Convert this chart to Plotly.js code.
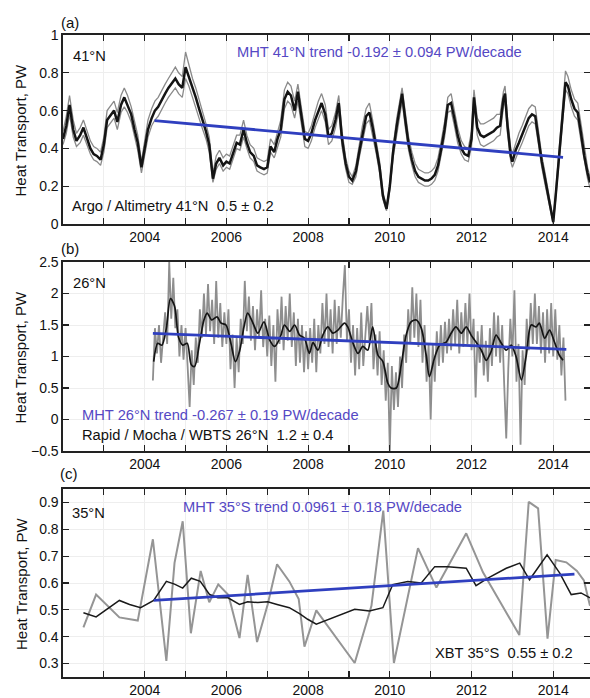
<!DOCTYPE html>
<html><head><meta charset="utf-8">
<script src="https://cdn.plot.ly/plotly-3.0.1.min.js"></script>
<style>html,body{margin:0;padding:0;overflow:hidden;background:#fff}#chart{width:600px;height:698px}</style>
</head><body><div id="chart"></div>
<script>
// ---------- tick labels ----------
const xTickVals = [2003,2004,2005,2006,2007,2008,2009,2010,2011,2012,2013,2014];
const xTickText = ['','2004','','2006','','2008','','2010','','2012','','2014'];
const yTicksA = [0,0.2,0.4,0.6,0.8,1];
const yTicksB = [-0.5,0,0.5,1,1.5,2,2.5];
const yTicksC = [0.3,0.4,0.5,0.6,0.7,0.8,0.9];

// ---------- panel (a): Argo / Altimetry 41N ----------
const yrA = [2002.00,2002.08,2002.16,2002.25,2002.33,2002.42,2002.50,2002.58,2002.67,2002.75,2002.83,2002.92,
2003.00,2003.08,2003.17,2003.25,2003.33,2003.42,2003.50,2003.58,2003.67,2003.75,2003.83,2003.92,
2004.00,2004.08,2004.17,2004.25,2004.33,2004.42,2004.50,2004.58,2004.67,2004.75,2004.83,2004.92,
2005.00,2005.08,2005.17,2005.25,2005.33,2005.42,2005.50,2005.58,2005.67,2005.75,2005.83,2005.92,
2006.00,2006.08,2006.17,2006.25,2006.33,2006.42,2006.50,2006.58,2006.67,2006.75,2006.83,2006.92,
2007.00,2007.08,2007.17,2007.25,2007.33,2007.42,2007.50,2007.58,2007.67,2007.75,2007.83,2007.92,
2008.00,2008.08,2008.17,2008.25,2008.33,2008.42,2008.50,2008.58,2008.67,2008.75,2008.83,2008.92,
2009.00,2009.08,2009.17,2009.25,2009.33,2009.42,2009.50,2009.58,2009.67,2009.75,2009.83,2009.92,
2010.00,2010.08,2010.17,2010.25,2010.30,2010.38,2010.46,2010.54,2010.62,2010.70,2010.78,2010.86,
2010.94,2011.02,2011.10,2011.18,2011.26,2011.34,2011.42,2011.50,2011.58,2011.66,2011.75,2011.83,
2011.92,2012.00,2012.06,2012.14,2012.22,2012.30,2012.38,2012.46,2012.54,2012.62,2012.70,2012.78,
2012.82,2012.88,2012.96,2013.00,2013.08,2013.16,2013.24,2013.32,2013.40,2013.48,2013.56,2013.64,
2013.72,2013.80,2013.88,2013.94,2014.00,2014.06,2014.14,2014.22,2014.30,2014.36,2014.44,2014.52,
2014.60,2014.68,2014.76,2014.84,2014.90];
const ctrA = [0.45,0.52,0.63,0.50,0.44,0.47,0.51,0.46,0.40,0.37,0.36,0.34,
0.42,0.55,0.58,0.60,0.54,0.63,0.67,0.63,0.58,0.50,0.43,0.30,
0.40,0.50,0.56,0.60,0.62,0.66,0.69,0.72,0.75,0.77,0.74,0.72,
0.83,0.78,0.72,0.67,0.61,0.55,0.49,0.42,0.24,0.32,0.35,0.31,
0.33,0.32,0.38,0.43,0.42,0.50,0.43,0.38,0.36,0.31,0.30,0.29,
0.30,0.41,0.38,0.45,0.50,0.66,0.70,0.68,0.60,0.70,0.58,0.45,
0.44,0.48,0.55,0.60,0.64,0.58,0.46,0.48,0.55,0.64,0.45,0.32,
0.25,0.23,0.28,0.38,0.48,0.57,0.59,0.51,0.40,0.30,0.15,0.08,
0.20,0.38,0.52,0.62,0.69,0.55,0.42,0.34,0.28,0.25,0.24,0.23,
0.23,0.24,0.26,0.31,0.40,0.50,0.63,0.64,0.56,0.47,0.40,0.37,
0.36,0.45,0.67,0.51,0.47,0.46,0.47,0.48,0.49,0.51,0.52,0.66,
0.69,0.52,0.36,0.33,0.39,0.43,0.47,0.52,0.56,0.58,0.57,0.45,
0.33,0.24,0.15,0.08,0.01,0.15,0.36,0.58,0.75,0.73,0.66,0.61,
0.59,0.48,0.36,0.27,0.22];
const hiA = [0.49,0.57,0.68,0.55,0.48,0.51,0.55,0.50,0.44,0.41,0.40,0.38,
0.46,0.60,0.63,0.65,0.59,0.68,0.72,0.68,0.62,0.54,0.47,0.33,
0.44,0.55,0.61,0.65,0.67,0.71,0.74,0.77,0.80,0.83,0.80,0.78,
0.91,0.84,0.77,0.72,0.66,0.60,0.53,0.46,0.27,0.36,0.39,0.35,
0.37,0.36,0.42,0.47,0.47,0.55,0.47,0.42,0.40,0.35,0.34,0.33,
0.34,0.45,0.42,0.49,0.55,0.71,0.75,0.73,0.65,0.74,0.62,0.49,
0.48,0.52,0.59,0.65,0.69,0.63,0.50,0.52,0.59,0.68,0.49,0.35,
0.28,0.25,0.31,0.42,0.52,0.61,0.64,0.55,0.44,0.33,0.17,0.09,
0.22,0.41,0.56,0.66,0.72,0.59,0.46,0.38,0.32,0.29,0.28,0.27,
0.27,0.28,0.30,0.35,0.44,0.54,0.67,0.69,0.60,0.51,0.44,0.41,
0.40,0.49,0.71,0.56,0.53,0.53,0.54,0.55,0.56,0.58,0.58,0.70,
0.73,0.56,0.40,0.37,0.43,0.48,0.52,0.57,0.61,0.63,0.62,0.49,
0.36,0.27,0.17,0.09,0.02,0.17,0.39,0.62,0.81,0.78,0.71,0.66,
0.64,0.53,0.40,0.30,0.25];
const loA = [0.42,0.48,0.58,0.46,0.41,0.43,0.47,0.42,0.37,0.34,0.33,0.31,
0.38,0.51,0.54,0.56,0.50,0.59,0.62,0.59,0.54,0.46,0.39,0.27,
0.36,0.46,0.52,0.55,0.57,0.61,0.64,0.67,0.70,0.72,0.69,0.67,
0.77,0.73,0.67,0.62,0.56,0.50,0.45,0.38,0.22,0.29,0.32,0.28,
0.30,0.29,0.35,0.40,0.39,0.46,0.40,0.35,0.33,0.28,0.27,0.26,
0.27,0.38,0.35,0.41,0.46,0.61,0.65,0.63,0.56,0.65,0.54,0.41,
0.40,0.44,0.51,0.56,0.60,0.54,0.42,0.44,0.51,0.60,0.41,0.29,
0.22,0.21,0.25,0.35,0.44,0.53,0.55,0.47,0.37,0.27,0.13,0.07,
0.18,0.35,0.48,0.58,0.65,0.51,0.39,0.31,0.25,0.22,0.21,0.20,
0.20,0.21,0.23,0.28,0.37,0.46,0.59,0.60,0.52,0.43,0.37,0.34,
0.33,0.41,0.63,0.47,0.42,0.41,0.42,0.43,0.44,0.46,0.47,0.62,
0.65,0.48,0.33,0.30,0.35,0.39,0.43,0.48,0.52,0.54,0.53,0.42,
0.30,0.21,0.13,0.06,0.00,0.13,0.33,0.54,0.71,0.69,0.62,0.57,
0.55,0.44,0.33,0.24,0.19];
const trendAx = [2004.24, 2014.24];
const trendAy = [0.547, 0.353];

// ---------- panel (b): Rapid / Mocha / WBTS 26N ----------
const rawBStart = 2004.20, rawBStep = 0.05;
const rawB = [
0.62,1.45,1.05,1.50,0.90,1.35,1.70,1.20,2.50,1.60,2.25,1.45,1.75,1.00,1.50,0.95,
1.45,0.85,0.20,1.10,0.55,1.30,0.90,1.75,1.30,2.00,1.35,2.15,1.40,1.90,1.20,2.20,1.30,1.85,1.15,1.70,
1.20,1.75,0.80,1.35,0.50,1.30,0.75,1.60,1.20,2.20,1.40,1.95,1.25,1.80,1.10,1.75,1.30,2.05,1.15,1.60,
1.00,1.65,0.85,1.50,0.60,1.75,1.20,1.95,1.10,1.80,1.25,2.00,1.15,1.70,0.85,1.60,0.90,1.50,0.75,1.40,
0.80,1.45,0.90,1.60,0.75,1.50,1.05,1.85,1.20,2.00,1.15,1.75,1.05,1.90,1.20,1.80,1.30,1.95,2.45,1.25,
1.75,0.90,1.50,0.70,1.45,0.80,1.70,0.85,1.40,1.80,1.25,1.85,0.80,1.35,0.70,1.40,0.55,1.10,0.30,0.90,
-0.50,0.85,0.15,0.75,0.20,1.00,0.50,1.35,0.90,1.75,1.20,2.10,1.30,2.00,1.15,1.90,0.90,1.50,0.60,1.20,
0.00,1.20,0.60,1.40,0.85,1.50,0.90,1.55,1.05,1.60,1.10,1.75,1.20,1.90,1.05,1.70,1.15,1.85,1.20,2.00,
1.10,1.60,0.35,1.40,0.90,1.50,0.70,1.25,0.60,1.45,0.85,1.70,1.00,1.65,0.90,1.50,0.55,-0.30,0.80,1.60,
1.00,2.05,0.60,1.20,-0.40,1.10,0.55,1.60,1.10,1.85,1.20,2.00,1.20,1.80,1.05,1.70,0.90,1.75,1.05,1.85,
1.00,1.75,0.95,1.50,0.70,1.30,0.30];
const yrB = [2004.22,2004.32,2004.42,2004.53,2004.63,2004.73,2004.83,2004.93,2005.04,2005.14,2005.22,2005.34,
2005.45,2005.53,2005.64,2005.77,2005.87,2005.99,2006.12,2006.22,2006.32,2006.43,2006.52,2006.65,
2006.77,2006.92,2007.06,2007.18,2007.32,2007.42,2007.55,2007.67,2007.79,2007.91,2008.03,2008.12,
2008.24,2008.36,2008.48,2008.61,2008.73,2008.89,2008.97,2009.10,2009.22,2009.34,2009.46,2009.58,
2009.71,2009.83,2009.95,2010.03,2010.16,2010.28,2010.40,2010.52,2010.65,2010.77,2010.89,2010.97,
2011.09,2011.22,2011.38,2011.50,2011.62,2011.75,2011.87,2011.99,2012.11,2012.24,2012.36,2012.48,
2012.60,2012.73,2012.85,2012.97,2013.09,2013.22,2013.34,2013.46,2013.58,2013.66,2013.79,2013.91,
2014.03,2014.15,2014.24];
const smoothB = [0.92,1.21,1.18,1.45,1.92,1.80,1.30,1.18,1.21,0.87,0.84,1.21,
1.58,1.69,1.58,1.63,1.53,1.50,1.18,0.92,1.08,1.47,1.69,1.53,
1.37,1.55,1.26,1.16,1.31,1.50,1.40,1.50,1.34,1.29,1.05,1.22,
1.10,1.34,1.47,1.37,1.42,1.53,1.47,1.21,1.05,1.16,1.10,1.47,
1.02,0.92,0.58,0.50,0.50,0.87,1.34,1.55,1.58,1.45,1.02,0.68,
0.97,1.18,1.23,1.37,1.47,1.37,1.47,1.34,1.23,1.10,0.94,1.08,
1.34,1.21,1.10,1.18,1.00,0.63,1.02,1.50,1.47,1.53,1.29,1.42,
1.23,1.02,0.94];
const trendBx = [2004.20, 2014.32];
const trendBy = [1.368, 1.114];

// ---------- panel (c): XBT 35S ----------
const yrCraw = [2002.50,2002.81,2003.38,2003.83,2004.20,2004.53,2004.73,2004.93,2005.13,2005.37,2005.58,2005.80,
2006.05,2006.32,2006.52,2006.75,2007.01,2007.24,2007.54,2007.77,2007.91,2008.20,2009.14,2009.55,
2009.84,2010.10,2010.69,2011.14,2011.87,2012.28,2013.17,2013.40,2013.63,2013.86,2014.06,2014.32,
2014.58,2014.75,2014.90];
const rawC = [0.435,0.557,0.472,0.460,0.763,0.310,0.675,0.830,0.413,0.645,0.528,0.595,
0.555,0.395,0.630,0.380,0.520,0.670,0.606,0.540,0.363,0.498,0.302,0.515,
0.870,0.302,0.730,0.583,0.785,0.640,0.406,0.902,0.878,0.393,0.686,0.677,
0.645,0.610,0.515];
const yrCsm = [2002.50,2002.81,2003.38,2003.63,2003.90,2004.22,2004.53,2004.73,2004.93,2005.14,2005.36,2005.59,
2005.79,2006.04,2006.32,2006.52,2006.77,2007.01,2007.24,2007.54,2007.79,2007.99,2008.20,2008.61,
2009.14,2009.50,2009.83,2010.07,2010.44,2010.77,2011.10,2011.42,2011.87,2012.11,2012.40,2012.85,
2013.18,2013.42,2013.85,2014.16,2014.44,2014.68,2014.90];
const smoothC = [0.489,0.474,0.535,0.520,0.508,0.535,0.606,0.596,0.581,0.618,0.606,0.557,
0.545,0.545,0.520,0.530,0.527,0.530,0.520,0.508,0.486,0.465,0.447,0.470,
0.502,0.496,0.508,0.594,0.606,0.600,0.661,0.661,0.655,0.590,0.618,0.655,
0.674,0.612,0.705,0.637,0.557,0.563,0.545];
const trendCx = [2004.22, 2014.52];
const trendCy = [0.535, 0.633];

// ---------- build ----------
const tB = rawB.map((v, i) => +(rawBStart + i * rawBStep).toFixed(2));
const FONT = 'Liberation Sans, Arial, sans-serif';
const BLUE_LINE = '#2f3fbf';
const BLUE_TEXT = '#5548c4';

const traces = [
  {x: yrA, y: hiA, xaxis: 'x', yaxis: 'y', mode: 'lines', line: {color: '#8a8a8a', width: 1.3}},
  {x: yrA, y: loA, xaxis: 'x', yaxis: 'y', mode: 'lines', line: {color: '#8a8a8a', width: 1.3}},
  {x: yrA, y: ctrA, xaxis: 'x', yaxis: 'y', mode: 'lines', line: {color: '#141414', width: 2.5}},
  {x: trendAx, y: trendAy, xaxis: 'x', yaxis: 'y', mode: 'lines', line: {color: BLUE_LINE, width: 2.8}},

  {x: tB, y: rawB, xaxis: 'x2', yaxis: 'y2', mode: 'lines', line: {color: '#8e8e8e', width: 1.8}},
  {x: yrB, y: smoothB, xaxis: 'x2', yaxis: 'y2', mode: 'lines', line: {color: '#141414', width: 1.7, shape: 'spline', smoothing: 0.8}},
  {x: trendBx, y: trendBy, xaxis: 'x2', yaxis: 'y2', mode: 'lines', line: {color: BLUE_LINE, width: 2.8}},

  {x: yrCraw, y: rawC, xaxis: 'x3', yaxis: 'y3', mode: 'lines', line: {color: '#959595', width: 2}},
  {x: yrCsm, y: smoothC, xaxis: 'x3', yaxis: 'y3', mode: 'lines', line: {color: '#1a1a1a', width: 1.5}},
  {x: trendCx, y: trendCy, xaxis: 'x3', yaxis: 'y3', mode: 'lines', line: {color: BLUE_LINE, width: 2.8}}
];

function xAx(anchor) {
  return {anchor: anchor, range: [2002, 2014.9], tickvals: xTickVals, ticktext: xTickText,
    ticks: 'inside', ticklen: 6, tickwidth: 1.2, tickcolor: '#222', showline: true, linecolor: '#222',
    linewidth: 1.6, mirror: 'ticks', showgrid: true, gridcolor: '#eeeeee', zeroline: false,
    tickfont: {family: FONT, size: 14, color: '#111'}, fixedrange: true};
}
function yAx(domain, range, vals) {
  return {domain: domain, range: range, tickvals: vals,
    ticks: 'inside', ticklen: 6, tickwidth: 1.2, tickcolor: '#222', showline: true, linecolor: '#222',
    linewidth: 1.6, mirror: 'ticks', showgrid: true, gridcolor: '#eeeeee', zeroline: false,
    tickfont: {family: FONT, size: 14, color: '#111'}, fixedrange: true};
}

function txt(xref, yref, x, y, text, color, opts) {
  return Object.assign({xref: xref, yref: yref, x: x, y: y, text: text, showarrow: false,
    xanchor: 'left', yanchor: 'middle', font: {family: FONT, size: 14.7, color: color}}, opts || {});
}

const annotations = [
  txt('paper','paper', 0.0133, 1.0195, '(a)', '#111', {xanchor: 'center', font: {family: FONT, size: 15, color: '#111'}}),
  txt('paper','paper', 0.0133, 0.6667, '(b)', '#111', {xanchor: 'center', font: {family: FONT, size: 15, color: '#111'}}),
  txt('paper','paper', 0.0114, 0.3162, '(c)', '#111', {xanchor: 'center', font: {family: FONT, size: 15, color: '#111'}}),
  txt('paper','paper', -0.0797, 0.8528, 'Heat Transport, PW', '#111', {xanchor: 'center', textangle: -90, font: {family: FONT, size: 15, color: '#111'}}),
  txt('paper','paper', -0.0797, 0.4992, 'Heat Transport, PW', '#111', {xanchor: 'center', textangle: -90, font: {family: FONT, size: 15, color: '#111'}}),
  txt('paper','paper', -0.0797, 0.1464, 'Heat Transport, PW', '#111', {xanchor: 'center', textangle: -90, font: {family: FONT, size: 15, color: '#111'}}),

  txt('x','y', 2002.2, 0.889, '41°N', '#111'),
  txt('x','y', 2006.2, 0.91, 'MHT 41°N trend -0.192 ± 0.094 PW/decade', BLUE_TEXT),
  txt('x','y', 2002.18, 0.095, 'Argo / Altimetry 41°N  0.5 ± 0.2', '#111'),

  txt('x2','y2', 2002.2, 2.17, '26°N', '#111'),
  txt('x2','y2', 2002.42, 0.07, 'MHT 26°N trend -0.267 ± 0.19 PW/decade', BLUE_TEXT),
  txt('x2','y2', 2002.42, -0.25, 'Rapid / Mocha / WBTS 26°N  1.2 ± 0.4', '#111'),

  txt('x3','y3', 2002.17, 0.861, '35°N', '#111'),
  txt('x3','y3', 2004.9, 0.883, 'MHT 35°S trend 0.0961 ± 0.18 PW/decade', BLUE_TEXT),
  txt('x3','y3', 2011.05, 0.34, 'XBT 35°S  0.55 ± 0.2', '#111')
];

const layout = {
  width: 600, height: 698,
  margin: {l: 63, r: 10, t: 35, b: 21},
  paper_bgcolor: '#fff', plot_bgcolor: '#fff',
  showlegend: false,
  font: {family: FONT, color: '#111'},
  xaxis: xAx('y'), xaxis2: xAx('y2'), xaxis3: xAx('y3'),
  yaxis: yAx([0.7056, 1], [0, 1], yTicksA),
  yaxis2: yAx([0.352, 0.6464], [-0.5, 2.5], yTicksB),
  yaxis3: yAx([0, 0.2928], [0.25, 0.95], yTicksC),
  annotations: annotations
};

Plotly.newPlot('chart', traces, layout, {displayModeBar: false, staticPlot: true});
</script></body></html>
